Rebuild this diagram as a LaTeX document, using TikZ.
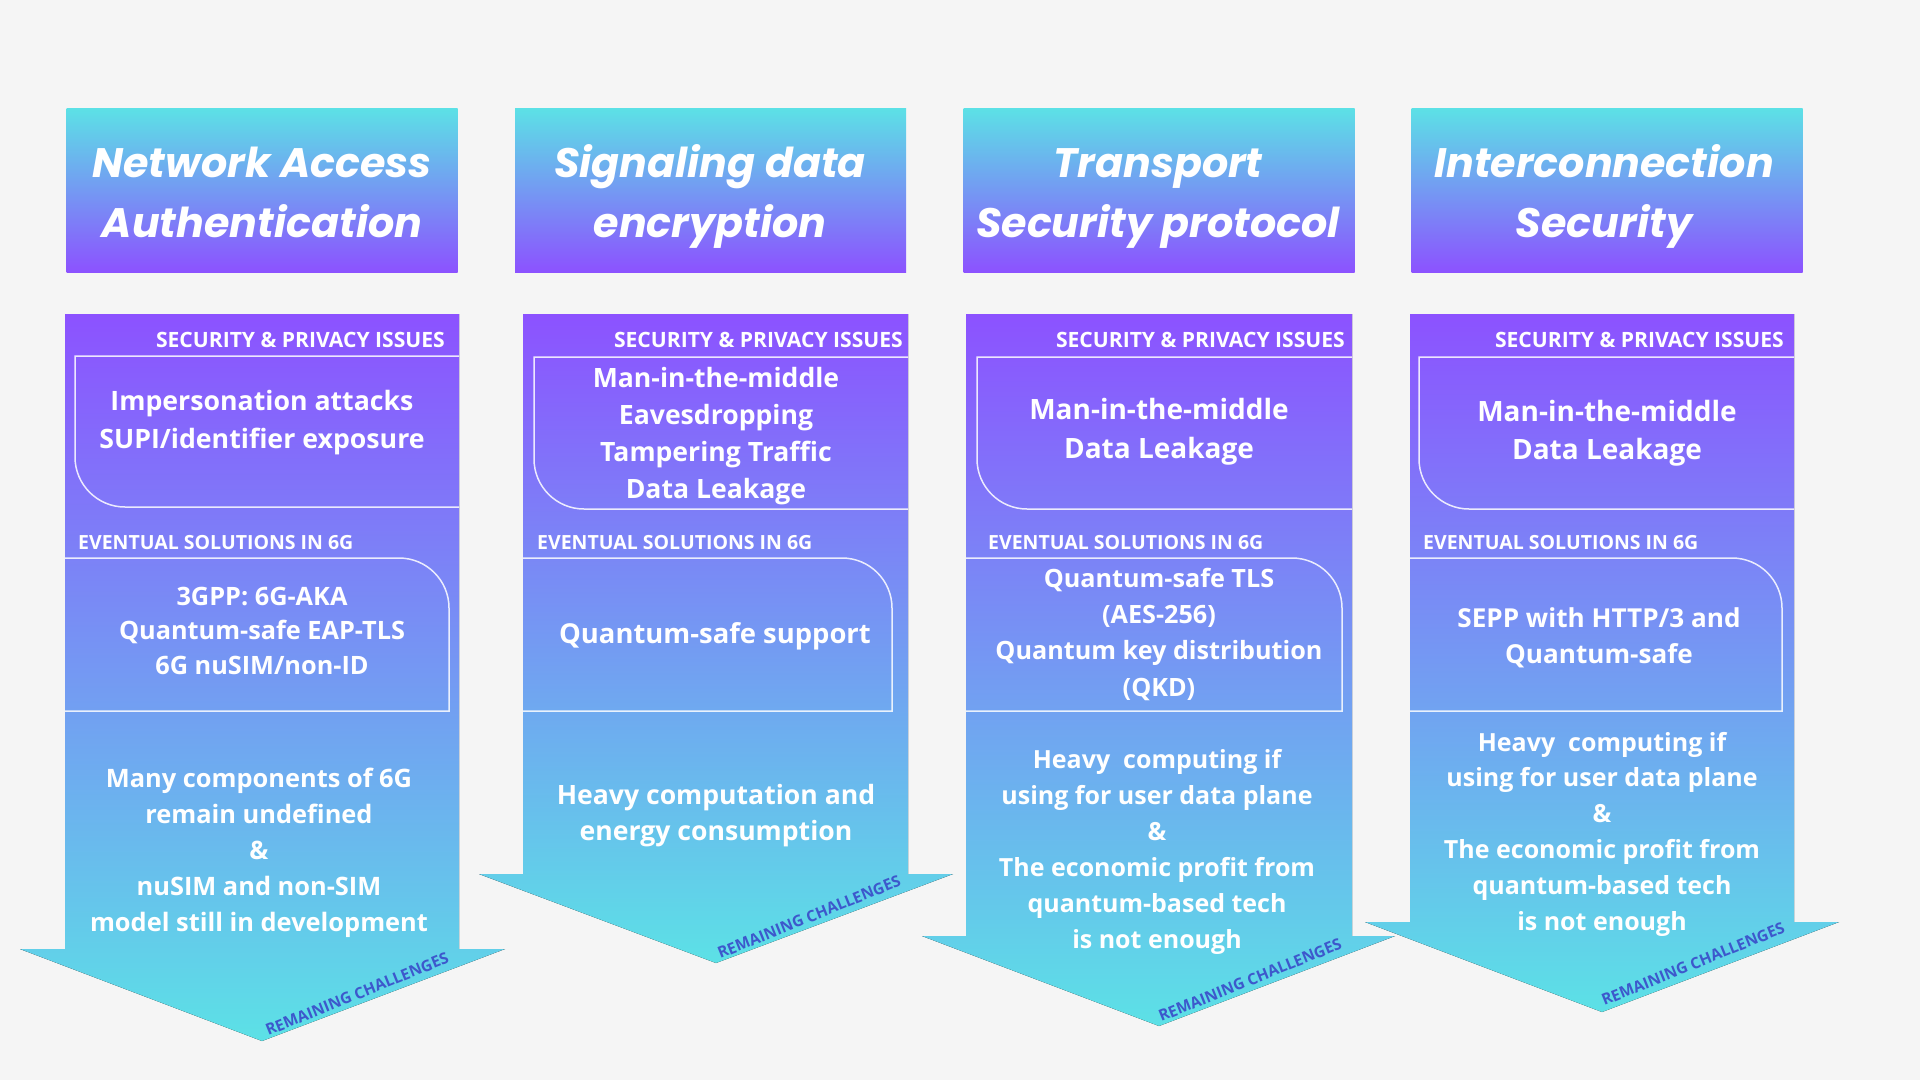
\documentclass[tikz,border=0pt]{standalone}
\usepackage{fontspec}
\newfontfamily\bodyfont{Open Sans}
\newfontfamily\headfont{Poppins}
\definecolor{bgc}{HTML}{F5F5F5}
\definecolor{cyanc}{HTML}{5CE1E6}
\definecolor{purplec}{HTML}{8C52FF}
\definecolor{remc}{HTML}{3D58CC}
\tikzset{
  arrowbody/.style={top color=purplec, bottom color=cyanc, draw=none},
  headbox/.style={top color=cyanc, bottom color=purplec, draw=none, inner sep=0, minimum width=391pt, minimum height=164pt},
  frame/.style={draw=white, draw opacity=0.85, line width=1.5pt},
  txt/.style 2 args={text=white, align=center, anchor=base, inner sep=0, font=\bodyfont\bfseries\fontsize{#1}{#2}\selectfont},
  headtxt/.style={text=white, align=center, anchor=base, inner sep=0, font=\headfont\bfseries\itshape\fontsize{41.2}{60}\selectfont},
  labtxt/.style={text=white, inner sep=0, font=\bodyfont\bfseries\fontsize{#1}{24}\selectfont},
  remtxt/.style={text=remc, inner sep=0, rotate=22, font=\bodyfont\bfseries\fontsize{15.6}{18}\selectfont},
}
\begin{document}
\begin{tikzpicture}[x=1pt,y=-1pt]
\fill[bgc] (0,0) rectangle (1920,1080);
\useasboundingbox (0,0) rectangle (1920,1080);

% ---------- headers ----------
\node[headbox] (h1) at (262,190) {};
\node[headbox] (h2) at (710.5,190) {};
\node[headbox] (h3) at (1159,190) {};
\node[headbox] (h4) at (1607,190) {};
\node[headtxt] (h1t) at (262,237) {Network Access\\Authentication};
\node[headtxt] (h2t) at (710,237) {Signaling data\\encryption};
\node[headtxt] (h3t) at (1158,237) {Transport\\Security protocol};
\node[headtxt] (h4t) at (1604,237) {Interconnection\\Security};

% ---------- arrow bodies ----------
\fill[arrowbody] (65,314) -- (459,314) -- (459,949) -- (505,949) -- (262,1041) -- (20,949) -- (65,949) -- cycle;
\fill[arrowbody] (523,314) -- (908,314) -- (908,874) -- (953,874) -- (716,963) -- (479,874) -- (523,874) -- cycle;
\fill[arrowbody] (966,314) -- (1352,314) -- (1352,936) -- (1395,936) -- (1159,1026) -- (922,936) -- (966,936) -- cycle;
\fill[arrowbody] (1410,314) -- (1794,314) -- (1794,922) -- (1839,922) -- (1602,1012) -- (1365,922) -- (1410,922) -- cycle;

% ---------- issues frames (rounded bottom-left) ----------
\draw[frame] (459,356) -- (75,356) -- (75,457) .. controls (75,484.6) and (97.4,507) .. (125,507) -- (459,507);
\draw[frame] (908,357) -- (534,357) -- (534,459) .. controls (534,486.6) and (556.4,509) .. (584,509) -- (908,509);
\draw[frame] (1352,357) -- (977,357) -- (977,459) .. controls (977,486.6) and (999.4,509) .. (1027,509) -- (1352,509);
\draw[frame] (1794,357) -- (1419,357) -- (1419,459) .. controls (1419,486.6) and (1441.4,509) .. (1469,509) -- (1794,509);

% ---------- solutions frames (rounded top-right) ----------
\draw[frame] (65,558) -- (399,558) .. controls (426.6,558) and (449,580.4) .. (449,608) -- (449,711) -- (65,711);
\draw[frame] (523,558) -- (842,558) .. controls (869.6,558) and (892,580.4) .. (892,608) -- (892,711) -- (523,711);
\draw[frame] (966,558) -- (1292,558) .. controls (1319.6,558) and (1342,580.4) .. (1342,608) -- (1342,711) -- (966,711);
\draw[frame] (1410,558) -- (1732,558) .. controls (1759.6,558) and (1782,580.4) .. (1782,608) -- (1782,711) -- (1410,711);

% ---------- section labels ----------
\node[labtxt=21.1, anchor=base east] (s1) at (445,347) {SECURITY \& PRIVACY ISSUES};
\node[labtxt=21.1, anchor=base east] (s2) at (903,347) {SECURITY \& PRIVACY ISSUES};
\node[labtxt=21.1, anchor=base east] (s3) at (1345,347) {SECURITY \& PRIVACY ISSUES};
\node[labtxt=21.1, anchor=base east] (s4) at (1784,347) {SECURITY \& PRIVACY ISSUES};
\node[labtxt=19.5, anchor=base west] (e1) at (78,549) {EVENTUAL SOLUTIONS IN 6G};
\node[labtxt=19.5, anchor=base west] (e2) at (537,549) {EVENTUAL SOLUTIONS IN 6G};
\node[labtxt=19.5, anchor=base west] (e3) at (988,549) {EVENTUAL SOLUTIONS IN 6G};
\node[labtxt=19.5, anchor=base west] (e4) at (1423,549) {EVENTUAL SOLUTIONS IN 6G};

% ---------- issues texts (anchor = last baseline) ----------
\node[txt={26.7}{38}] (i1) at (262,448) {Impersonation attacks\\SUPI/identifier exposure};
\node[txt={26.6}{37}] (i2) at (716,498) {Man-in-the-middle\\Eavesdropping\\Tampering Traffic\\Data Leakage};
\node[txt={28}{39}] (i3) at (1159,458) {Man-in-the-middle\\Data Leakage};
\node[txt={28}{38}] (i4) at (1607,459) {Man-in-the-middle\\Data Leakage};

% ---------- solutions texts ----------
\node[txt={25.3}{34.5}] (o1) at (262,674) {3GPP: 6G-AKA\\Quantum-safe EAP-TLS\\6G nuSIM/non-ID};
\node[txt={27.4}{36}] (o2) at (715,643) {Quantum-safe support};
\node[txt={25.2}{36.3}] (o3) at (1159,696) {Quantum-safe TLS\\(AES-256)\\Quantum key distribution\\(QKD)};
\node[txt={26.1}{36}] (o4) at (1599,663) {SEPP with HTTP/3 and\\Quantum-safe};

% ---------- challenges texts ----------
\node[txt={25.4}{36}] (c1) at (259,931) {Many components of 6G\\remain undefined\\\&\\nuSIM and non-SIM\\model still in development};
\node[txt={26.6}{36}] (c2) at (716,840) {Heavy computation and\\energy consumption};
\node[txt={25}{36}] (c3) at (1157,948) {Heavy~ computing if\\using for user data plane\\\&\\The economic profit from\\quantum-based tech\\is not enough};
\node[txt={25}{35.8}] (c4) at (1602,930) {Heavy~ computing if\\using for user data plane\\\&\\The economic profit from\\quantum-based tech\\is not enough};

% ---------- remaining challenges ----------
\node[remtxt] (r1) at (357,994) {REMAINING CHALLENGES};
\node[remtxt] (r2) at (809,917) {REMAINING CHALLENGES};
\node[remtxt] (r3) at (1250,980) {REMAINING CHALLENGES};
\node[remtxt] (r4) at (1693,964) {REMAINING CHALLENGES};
\end{tikzpicture}
\end{document}
